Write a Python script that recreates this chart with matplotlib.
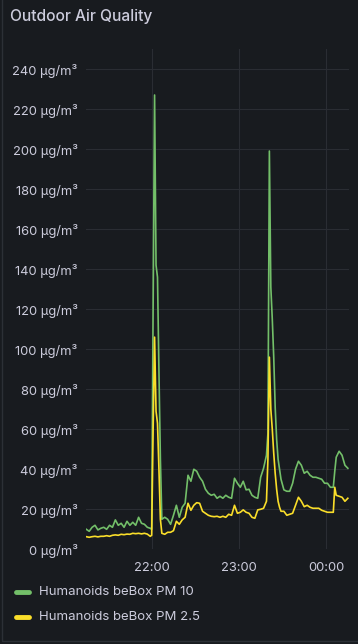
import numpy as np
import pandas as pd
import matplotlib
matplotlib.use("Agg")
import matplotlib.pyplot as plt
import matplotlib.dates as mdates
from matplotlib.ticker import FuncFormatter

# minutes relative to 22:00
minutes = [-45, -43, -41, -39, -37, -35, -33, -31, -29, -27, -25, -23, -21, -19, -17,
           -15, -13, -11, -9, -7, -5, -3, -1, 0, 1, 2, 3, 4, 5, 6, 7, 9, 11, 13, 15, 17,
           19, 21, 23, 25, 27, 29, 31, 33, 35, 37, 39, 41, 43, 45, 47, 49, 51, 53, 55,
           57, 59, 61, 63, 65, 67, 69, 71, 73, 75, 77, 79, 80, 81, 82, 83, 84, 85, 86,
           87, 88, 89, 91, 93, 95, 97, 99, 101, 103, 105, 107, 109, 111, 113, 115, 117,
           119, 121, 123, 125, 126, 127, 129, 131, 133, 135]

pm10 = [10, 9, 11, 12, 9.7, 10.5, 11, 10, 12, 11, 14.7, 12, 13, 11, 14,
        12, 13.5, 12, 16, 13, 12.5, 11, 10.5, 10, 121, 227, 142, 136, 89, 45, 15, 16, 15, 12.5, 17, 22,
        16, 21, 23, 37, 34, 40, 39, 36, 34, 30, 28, 27, 27.5, 25.5, 26.5, 25.5, 27, 26, 25.5,
        35.5, 33, 31, 34, 29.7, 30, 27, 26, 25.5, 36, 40.5, 47, 58, 199, 131, 115, 96, 71, 55,
        45, 40, 35, 29.7, 29, 29, 33, 40, 44, 42, 38, 39, 37, 36, 36, 35.5, 35,
        33, 33, 31, 31, 39, 46, 49, 47, 42, 40.5]

pm25 = [6.3, 6, 6.3, 6.5, 6.2, 6.5, 6.5, 6.8, 6.5, 7, 7.2, 7, 7.5, 7.3, 7.6,
        7.5, 8, 7.8, 8, 7.7, 8, 7.6, 6.5, 7, 60, 106, 69, 63, 40, 15, 8, 7.5, 8.5, 8.5, 9.3, 14,
        12.5, 14.7, 16, 23, 19.5, 22, 23.3, 23, 19, 18, 17, 16.5, 16.3, 16.5, 16, 16.5, 16, 17.5, 17,
        22, 18, 18.5, 19.7, 18.5, 18, 16, 15.5, 19.7, 20, 20.5, 24, 45, 96, 70, 60, 48, 38, 30,
        24, 21, 19, 19, 17, 17.5, 18, 22, 26, 24, 21.3, 22, 21, 20.5, 20.5, 20.5, 19.5,
        19, 18.5, 18.5, 18.5, 31, 27, 26.5, 26, 24, 25.5]

labels = ["Humanoids beBox PM 10", "Humanoids beBox PM 2.5"]
colors = ["#73bf69", "#fade2a"]

t0 = pd.Timestamp("2024-01-01 22:00")
times = [t0 + pd.Timedelta(minutes=m) for m in minutes]

bg = "#181b1f"
txt = "#ccccdc"
grid = "#2a2d33"

plt.rcParams["font.family"] = ["Inter", "DejaVu Sans"]

fig = plt.figure(figsize=(3.58, 6.44), dpi=100)
fig.patch.set_facecolor(bg)

W, H = 358, 644
ax = fig.add_axes([86 / W, 1 - 549.3 / H, 263 / W, 500.3 / H])
ax.set_facecolor(bg)

ax.plot(times, pm10, color=colors[0], lw=1.2)
ax.plot(times, pm25, color=colors[1], lw=1.2)

ax.set_ylim(0, 250)
ax.set_xlim(t0 + pd.Timedelta(minutes=-45.2), t0 + pd.Timedelta(minutes=135.8))
ax.set_yticks(np.arange(0, 241, 20))
ax.yaxis.set_major_formatter(FuncFormatter(lambda v, p: f"{int(v)} µg/m³"))
ax.xaxis.set_major_locator(mdates.HourLocator())
ax.xaxis.set_major_formatter(mdates.DateFormatter("%H:%M"))

ax.grid(True, color=grid, lw=0.8)
ax.set_axisbelow(True)
for s in ax.spines.values():
    s.set_visible(False)
ax.tick_params(length=0, colors=txt, labelsize=9.3, pad=6)
ax.tick_params(axis="x", pad=9)

fig.text(10 / W, 1 - 17 / H, "Outdoor Air Quality", color=txt, fontsize=11.2,
         fontweight="medium", ha="left", va="center")

# legend
for i, (lab, c) in enumerate(zip(labels, colors)):
    y = 1 - (592 + 25 * i) / H
    fig.add_artist(plt.Line2D([16 / W, 29 / W], [y, y], color=c, lw=3.5,
                              solid_capstyle="round"))
    fig.text(39 / W, y, lab, color=txt, fontsize=9.5, ha="left", va="center")

# panel border
border = plt.Rectangle((1.5 / W, 3 / H), 1.2, 1, transform=fig.transFigure,
                       fill=False, edgecolor="#2c3036", lw=1)
fig.add_artist(border)

fig.savefig("out.png", dpi=100, facecolor=bg)
